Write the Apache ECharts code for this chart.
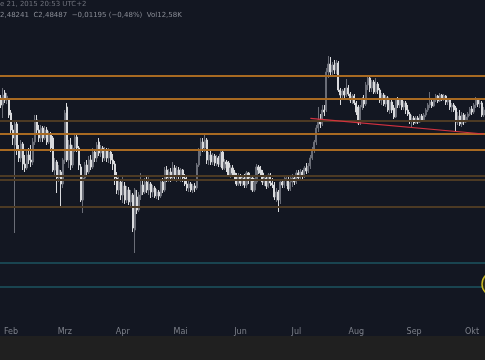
<!DOCTYPE html>
<html><head><meta charset="utf-8">
<script src="https://cdn.jsdelivr.net/npm/echarts@6/dist/echarts.min.js"></script>
<style>html,body{margin:0;padding:0;background:#131722;}#c{width:485px;height:360px;}</style>
</head><body><div id="c"></div>
<script>
// [open, close, low, high]
const ohlc = [
[3.02,2.95,2.92,3.05],[2.95,3.05,2.82,3.12],[3.07,3.00,2.97,3.10],[3.00,3.04,2.96,3.07],[3.00,2.85,2.82,3.02],
[2.87,2.70,2.66,2.90],[2.70,2.62,2.55,2.75],[2.55,2.76,1.67,2.80],[2.76,2.50,2.45,2.78],[2.50,2.42,2.38,2.55],
[2.42,2.56,2.38,2.60],[2.56,2.36,2.30,2.58],[2.36,2.32,2.28,2.45],[2.32,2.45,2.30,2.50],[2.45,2.40,2.36,2.52],
[2.40,2.38,2.33,2.55],[2.38,2.58,2.35,2.62],[2.58,2.80,2.55,2.85],[2.80,2.70,2.66,2.85],[2.70,2.62,2.58,2.75],
[2.62,2.72,2.58,2.75],[2.72,2.62,2.58,2.74],[2.62,2.70,2.60,2.74],[2.70,2.58,2.55,2.73],[2.58,2.66,2.56,2.69],
[2.66,2.52,2.48,2.68],[2.62,2.30,2.28,2.64],[2.30,2.38,2.25,2.42],[2.38,2.22,2.07,2.40],[2.22,2.30,2.18,2.35],
[2.28,2.16,1.93,2.30],[2.16,2.40,2.12,2.42],[2.40,2.87,2.36,2.90],[2.93,2.40,2.38,2.97],[2.40,2.55,2.32,2.60],
[2.55,2.35,2.30,2.62],[2.35,2.52,2.32,2.55],[2.52,2.63,2.48,2.66],[2.63,2.52,2.48,2.67],[2.52,2.35,2.30,2.54],
[2.33,2.00,1.98,2.36],[2.00,2.22,1.87,2.25],[2.22,2.35,2.20,2.38],[2.35,2.28,2.25,2.40],[2.28,2.40,2.26,2.44],
[2.40,2.33,2.30,2.45],[2.33,2.48,2.31,2.52],[2.48,2.42,2.38,2.50],[2.42,2.55,2.38,2.58],[2.58,2.47,2.44,2.62],
[2.47,2.52,2.43,2.55],[2.52,2.42,2.38,2.54],[2.42,2.50,2.39,2.53],[2.50,2.42,2.38,2.52],[2.42,2.48,2.37,2.52],
[2.48,2.40,2.36,2.50],[2.40,2.36,2.30,2.46],[2.36,2.22,2.15,2.39],[2.22,2.10,2.06,2.28],[2.10,2.18,2.05,2.25],
[2.18,2.05,2.00,2.20],[2.05,2.14,1.97,2.25],[2.14,2.00,1.96,2.18],[2.00,2.10,1.97,2.14],[2.10,1.98,1.95,2.13],
[1.98,2.05,1.93,2.10],[2.05,1.72,1.68,2.07],[1.70,2.10,1.47,2.12],[2.03,1.90,1.86,2.10],[1.90,2.05,1.88,2.08],
[2.05,2.15,2.00,2.27],[2.15,2.08,2.05,2.20],[2.08,2.18,2.06,2.22],[2.18,2.10,2.07,2.24],[2.10,2.16,2.05,2.24],
[2.16,2.08,2.02,2.18],[2.08,2.12,2.03,2.15],[2.12,2.04,2.02,2.14],[2.04,2.08,2.01,2.11],[2.08,2.04,2.00,2.10],
[2.04,2.18,2.02,2.20],[2.18,2.10,2.07,2.22],[2.10,2.30,2.08,2.33],[2.30,2.22,2.18,2.34],[2.22,2.28,2.18,2.31],
[2.28,2.22,2.18,2.32],[2.22,2.32,2.20,2.38],[2.32,2.25,2.20,2.35],[2.25,2.30,2.18,2.34],[2.30,2.24,2.20,2.33],
[2.24,2.30,2.18,2.32],[2.30,2.22,2.18,2.31],[2.22,2.16,2.14,2.26],[2.16,2.12,2.09,2.23],[2.12,2.16,2.08,2.19],
[2.16,2.10,2.08,2.18],[2.10,2.14,2.07,2.16],[2.14,2.12,2.08,2.17],[2.12,2.35,2.10,2.37],[2.35,2.50,2.33,2.52],
[2.50,2.58,2.44,2.62],[2.58,2.52,2.48,2.62],[2.52,2.60,2.48,2.67],[2.60,2.40,2.36,2.62],[2.40,2.45,2.35,2.48],
[2.45,2.38,2.35,2.50],[2.38,2.44,2.35,2.47],[2.44,2.37,2.34,2.46],[2.37,2.42,2.34,2.45],[2.42,2.36,2.33,2.44],
[2.36,2.46,2.33,2.49],[2.48,2.32,2.30,2.50],[2.32,2.38,2.30,2.41],[2.38,2.36,2.28,2.40],[2.37,2.25,2.23,2.39],
[2.25,2.32,2.22,2.35],[2.32,2.27,2.24,2.35],[2.27,2.24,2.20,2.30],[2.24,2.16,2.14,2.27],[2.16,2.24,2.14,2.27],
[2.24,2.17,2.14,2.26],[2.17,2.22,2.14,2.25],[2.22,2.15,2.12,2.26],[2.15,2.27,2.12,2.29],[2.27,2.20,2.16,2.28],
[2.20,2.22,2.10,2.25],[2.22,2.10,2.08,2.24],[2.10,2.18,2.08,2.22],[2.18,2.33,2.16,2.36],[2.33,2.30,2.26,2.35],
[2.30,2.27,2.24,2.34],[2.27,2.18,2.15,2.30],[2.18,2.22,2.14,2.25],[2.22,2.14,2.11,2.24],[2.14,2.25,2.12,2.27],
[2.25,2.17,2.14,2.27],[2.17,2.15,2.12,2.22],[2.15,2.03,2.00,2.18],[2.03,2.08,1.98,2.12],[2.08,2.00,1.88,2.10],
[2.00,2.18,1.96,2.20],[2.18,2.15,2.12,2.21],[2.15,2.20,2.12,2.23],[2.20,2.22,2.14,2.25],[2.20,2.11,2.09,2.23],
[2.11,2.18,2.09,2.24],[2.18,2.22,2.13,2.26],[2.22,2.18,2.15,2.25],[2.18,2.27,2.16,2.30],[2.27,2.22,2.20,2.30],
[2.22,2.28,2.20,2.31],[2.28,2.24,2.21,2.30],[2.24,2.32,2.22,2.34],[2.32,2.29,2.26,2.37],[2.29,2.34,2.27,2.37],
[2.34,2.42,2.31,2.45],[2.42,2.50,2.40,2.53],[2.50,2.58,2.47,2.60],[2.58,2.72,2.55,2.75],[2.72,2.80,2.68,2.93],
[2.80,2.76,2.72,2.86],[2.76,2.90,2.74,2.95],[2.90,2.88,2.84,2.95],[2.90,3.28,2.88,3.32],[3.28,3.36,3.22,3.44],
[3.36,3.28,3.25,3.43],[3.28,3.35,3.25,3.38],[3.35,3.30,3.26,3.40],[3.30,3.37,3.26,3.40],[3.37,3.10,3.08,3.39],
[3.10,3.05,2.95,3.12],[3.05,3.09,3.00,3.11],[3.09,3.05,3.02,3.12],[3.05,3.12,3.03,3.21],[3.12,3.06,3.04,3.15],
[3.06,3.00,2.97,3.08],[3.00,3.04,2.96,3.06],[3.04,2.97,2.95,3.06],[2.97,2.88,2.85,2.99],[2.93,2.77,2.75,2.95],
[2.77,2.93,2.75,2.95],[2.93,3.00,2.90,3.03],[3.00,2.96,2.92,3.05],[2.96,3.15,2.94,3.18],[3.15,3.22,3.10,3.25],
[3.22,3.12,3.08,3.23],[3.12,3.18,3.08,3.20],[3.18,3.08,3.06,3.20],[3.08,3.16,3.06,3.22],[3.16,3.10,3.06,3.18],
[3.10,3.00,2.97,3.12],[3.00,3.05,2.95,3.07],[3.05,2.96,2.94,3.07],[2.96,3.03,2.93,3.05],[3.02,2.90,2.88,3.04],
[2.90,2.98,2.86,3.00],[2.98,2.90,2.87,3.00],[2.92,2.83,2.81,2.95],[2.83,3.00,2.82,3.02],[3.00,2.95,2.92,3.03],
[2.95,3.00,2.92,3.02],[3.00,2.93,2.90,3.02],[2.93,2.97,2.90,2.99],[2.97,2.90,2.86,2.99],[2.90,2.86,2.84,2.95],
[2.86,2.79,2.76,2.88],[2.79,2.82,2.72,2.85],[2.82,2.77,2.75,2.84],[2.77,2.82,2.76,2.84],[2.82,2.78,2.76,2.84],
[2.78,2.84,2.77,2.86],[2.84,2.80,2.78,2.86],[2.80,2.85,2.79,2.87],[2.85,2.90,2.83,2.92],[2.90,2.95,2.88,2.97],
[2.95,2.98,2.92,3.08],[2.98,2.94,2.92,3.00],[2.94,3.00,2.93,3.02],[3.00,3.04,2.98,3.06],[3.04,2.99,2.97,3.05],
[2.99,3.05,2.98,3.07],[3.05,3.01,2.99,3.06],[3.01,3.04,2.99,3.06],[3.04,2.98,2.95,3.05],[2.98,3.00,2.95,3.02],
[3.00,2.93,2.90,3.01],[2.93,2.95,2.88,2.97],[2.95,2.90,2.88,2.97],[2.92,2.78,2.68,2.94],[2.78,2.84,2.75,2.88],
[2.84,2.76,2.74,2.90],[2.76,2.85,2.73,2.88],[2.85,2.78,2.75,2.87],[2.78,2.83,2.77,2.86],[2.83,2.86,2.80,2.88],
[2.86,2.91,2.84,2.93],[2.91,2.88,2.85,2.94],[2.88,2.95,2.86,2.97],[2.95,3.00,2.92,3.03],[3.00,2.96,2.93,3.02],
[2.96,2.97,2.92,3.00],[2.97,2.85,2.83,2.99],[2.85,2.90,2.83,2.93]
];
const categories = ohlc.map((_, i) => String(i));
const monthTickIndex = [5, 32, 61, 90, 120, 148, 178, 207, 236];
const monthTickLabel = ['Feb', 'Mrz', 'Apr', 'Mai', 'Jun', 'Jul', 'Aug', 'Sep', 'Okt'];
const brightLevels = [3.243, 3.007, 2.66, 2.50];
const dimLevels = [2.79, 2.24, 2.203, 1.933];
const tealLevels = [1.37, 1.13];
const trendStart = [155, 2.817];
const trendEnd = [242, 2.66];
const circleValue = 1.16;
const headerLine1 = 'e 21, 2015 20:53 UTC+2';
const headerLine2 = '2,48241  C2,48487  −0,01195 (−0,48%)  Vol12,58K';

const chart = echarts.init(document.getElementById('c'), null, {renderer: 'canvas'});
const lvl = (v, color, w) => ({yAxis: v, lineStyle: {color: color, width: w, type: 'solid', opacity: 1}});
const lines = [
  ...brightLevels.map(v => lvl(v, '#a86a22', 2)),
  ...dimLevels.map(v => lvl(v, '#4c3a24', 2)),
  ...tealLevels.map(v => lvl(v, '#1d5560', 1.5)),
  [{coord: trendStart, lineStyle: {color: '#d2323f', width: 1.2, type: 'solid'}}, {coord: trendEnd}]
];
chart.setOption({
  backgroundColor: '#131722',
  animation: false,
  grid: {left: 0, right: 0, top: 0, bottom: 36},
  xAxis: {
    type: 'category', data: categories, boundaryGap: true,
    axisLine: {show: false}, axisTick: {show: false}, splitLine: {show: false},
    axisLabel: {
      interval: (idx) => monthTickIndex.includes(idx),
      formatter: (v) => { const k = monthTickIndex.indexOf(Number(v)); return k >= 0 ? monthTickLabel[k] : ''; },
      color: '#7d808a', fontSize: 8, margin: 4, fontFamily: 'DejaVu Sans'
    }
  },
  yAxis: {type: 'value', min: 0.76, max: 4.0, show: false, splitLine: {show: false}},
  series: [{
    type: 'candlestick', data: ohlc, barWidth: 1.6,
    itemStyle: {color: '#6a6d77', color0: '#d9dadd', borderColor: '#6a6d77', borderColor0: '#d9dadd', borderWidth: 1},
    markLine: {silent: true, symbol: ['none', 'none'], label: {show: false}, animation: false,
      lineStyle: {type: 'solid', opacity: 1}, data: lines}
  }]
});
const cy = chart.convertToPixel({yAxisIndex: 0}, circleValue);
chart.setOption({graphic: [
  {type: 'rect', left: 0, bottom: 0, shape: {width: 485, height: 24}, style: {fill: '#202020'}, z: 100},
  {type: 'text', left: 0, top: 1, style: {text: headerLine1, fill: '#6f727c', font: '7px "DejaVu Sans"'}, z: 100},
  {type: 'text', left: 0, top: 12, style: {text: headerLine2, fill: '#8a8d96', font: '7px "DejaVu Sans"'}, z: 100},
  {type: 'circle', shape: {cx: 494, cy: cy, r: 12}, style: {fill: '#2b2b1c', stroke: '#c9b826', lineWidth: 1.5}, z: 90}
]});
</script></body></html>
